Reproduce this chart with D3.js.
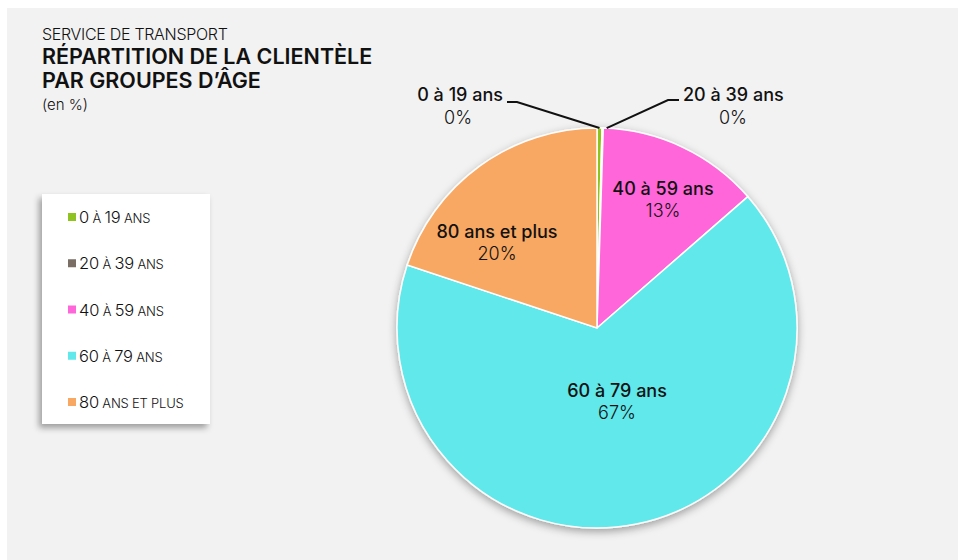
<!DOCTYPE html>
<html>
<head>
<meta charset="utf-8">
<script src="https://cdn.jsdelivr.net/npm/d3@7"></script>
<style>
  body { margin: 0; background: #fff; font-family: Inter, "Noto Sans", sans-serif; }
  svg { display: block; }
</style>
</head>
<body>
<svg id="chart" width="959" height="560"></svg>
<script>
const groups = ["0 à 19 ans", "20 à 39 ans", "40 à 59 ans", "60 à 79 ans", "80 ans et plus"];
const legendLabels = ["0 À 19 ANS", "20 À 39 ANS", "40 À 59 ANS", "60 À 79 ANS", "80 ANS ET PLUS"];
const shares = [0.4, 0.1, 13.1, 66.5, 19.9];
const shown = ["0%", "0%", "13%", "67%", "20%"];
const colors = ["#8fc31f", "#7a6e65", "#ff66d9", "#61e8ea", "#f8a862"];

const svg = d3.select('#chart');

const defs = svg.append('defs');
const sh = defs.append('filter').attr('id', 'shadow')
  .attr('x', '-20%').attr('y', '-20%').attr('width', '140%').attr('height', '140%');
sh.append('feDropShadow').attr('dx', 0).attr('dy', 3).attr('stdDeviation', 4)
  .attr('flood-color', '#000').attr('flood-opacity', 0.35);
const sh2 = defs.append('filter').attr('id', 'boxshadow')
  .attr('x', '-20%').attr('y', '-20%').attr('width', '140%').attr('height', '140%');
sh2.append('feDropShadow').attr('dx', -3).attr('dy', 4).attr('stdDeviation', 3)
  .attr('flood-color', '#000').attr('flood-opacity', 0.35);

// panel
svg.append('rect').attr('x', 7).attr('y', 8).attr('width', 951).attr('height', 552).attr('fill', '#f2f2f2');

// titles
const title = svg.append('g').attr('fill', '#111');
title.append('text').attr('x', 42).attr('y', 40).style('font-size', '16px').style('font-weight', 300)
  .style('letter-spacing', '-0.3px').text('SERVICE DE TRANSPORT');
title.append('text').attr('x', 42).attr('y', 64).style('font-size', '21.5px').style('font-weight', 600)
  .text('RÉPARTITION DE LA CLIENTÈLE');
title.append('text').attr('x', 42).attr('y', 88).style('font-size', '21.5px').style('font-weight', 600)
  .text('PAR GROUPES D\u2019ÂGE');
title.append('text').attr('x', 42).attr('y', 110).style('font-size', '15px').style('font-weight', 300)
  .text('(en %)');

// legend
const lg = svg.append('g');
lg.append('rect').attr('x', 42).attr('y', 194).attr('width', 168).attr('height', 230)
  .attr('fill', '#fff').attr('filter', 'url(#boxshadow)');
const ly = d3.scalePoint().domain(groups).range([217, 402]);
const rows = lg.selectAll('g.row').data(groups).enter().append('g').attr('class', 'row')
  .attr('transform', d => `translate(68, ${ly(d)})`);
rows.append('rect').attr('x', 0).attr('y', -4).attr('width', 8).attr('height', 8)
  .attr('fill', (d, i) => colors[i]);
const lt = rows.append('text').attr('x', 11).attr('y', 6).attr('fill', '#111')
  .style('font-size', '16.5px').style('font-weight', 300).style('letter-spacing', '-0.2px');
// digits full size, letters as small caps
lt.selectAll('tspan')
  .data((d, i) => legendLabels[i].match(/\d+|[^\d]+/g))
  .enter().append('tspan')
  .style('font-size', s => /\d/.test(s) ? '16.5px' : '13px')
  .text(s => s);

// pie
const cx = 597, cy = 328, R = 200;
const pie = d3.pie().sort(null).value(d => d);
const arcs = pie(shares);
const arc = d3.arc().innerRadius(0).outerRadius(R);
const g = svg.append('g').attr('transform', `translate(${cx}, ${cy})`);
g.append('g').attr('filter', 'url(#shadow)')
  .selectAll('path').data(arcs).enter().append('path')
  .attr('d', arc).attr('fill', (d, i) => colors[i])
  .attr('stroke', '#fff').attr('stroke-width', 1.5);

// inside labels
const inner = [2, 3, 4];
const labelPos = [null, null, [66, -133], [20, 69], [-100, -90]];
inner.forEach(i => {
  const p = labelPos[i];
  const t = g.append('text').attr('text-anchor', 'middle').attr('fill', '#111').style('font-size', '18px');
  t.append('tspan').attr('x', p[0]).attr('y', p[1]).style('font-weight', 500).text(groups[i]);
  t.append('tspan').attr('x', p[0]).attr('y', p[1] + 22).style('font-weight', 300).text(shown[i]);
});

// outside labels with leaders
const outer = [
  { i: 0, line: [[-80, -226], [-90, -226]], x: -94, anchor: 'end', pct: -139 },
  { i: 1, line: [[71, -228], [82, -228]], x: 86, anchor: 'start', pct: 136 }
];
outer.forEach(o => {
  const a = arcs[o.i];
  const mid = (a.startAngle + a.endAngle) / 2;
  const start = [Math.sin(mid) * R + (o.i === 0 ? 0 : 4), -Math.cos(mid) * R];
  const pts = [start, o.line[0], o.line[1]];
  g.append('path').attr('d', d3.line()(pts)).attr('fill', 'none')
    .attr('stroke', '#111').attr('stroke-width', 2);
  g.append('text').attr('x', o.x).attr('y', -227).attr('text-anchor', o.anchor)
    .attr('fill', '#111').style('font-size', '18px').style('font-weight', 500).text(groups[o.i]);
  g.append('text').attr('x', o.pct).attr('y', -204).attr('text-anchor', 'middle')
    .attr('fill', '#111').style('font-size', '18px').style('font-weight', 300).text(shown[o.i]);
});
</script>
</body>
</html>
